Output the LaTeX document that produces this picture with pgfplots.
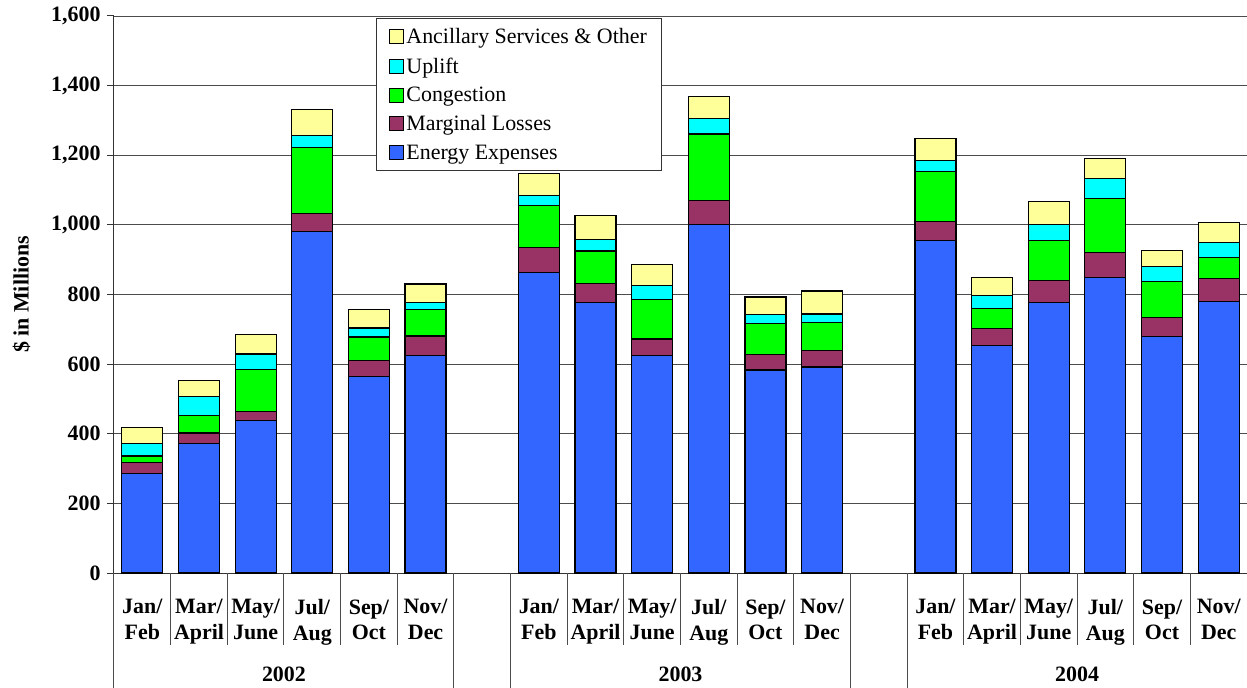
\documentclass[border=0pt]{standalone}
\usepackage{pgfplots}
\pgfplotsset{compat=1.18}
\usepackage{pgfplotstable}
\usepackage{fontspec}
\setmainfont{Liberation Serif}
\definecolor{cE}{HTML}{3366FF}
\definecolor{cM}{HTML}{993366}
\definecolor{cC}{HTML}{00FF00}
\definecolor{cU}{HTML}{00FFFF}
\definecolor{cA}{HTML}{FFFF99}
\pgfplotstableread{
x E M C U A
0 286 32 18 35 48
1 373 29 51 55 45
2 438 26 121 44 56
3 981 52 190 34 75
4 564 46 68 26 53
5 624 57 75 20 54
7 863 72 121 28 64
8 777 55 93 32 69
9 624 48 114 41 59
10 1002 68 191 45 62
11 583 45 88 26 51
12 592 46 81 25 66
14 955 55 144 32 62
15 654 48 58 36 53
16 777 64 115 44 67
17 849 72 154 58 57
18 680 54 103 43 46
19 781 66 60 43 57
}\data
\newcommand{\bigfont}{\fontsize{22}{26}\selectfont}
\begin{document}
\begin{tikzpicture}
\begin{axis}[name=ax,
  scale only axis, width=1133bp, height=557bp,
  xmin=-0.5, xmax=19.5, ymin=0, ymax=1600,
  ybar stacked, bar width=41bp,
  axis x line*=bottom, axis y line*=left,
  axis line style={black!80, line width=1bp},
  ytick={0,200,...,1600},
  ymajorgrids, grid style={black!70, line width=0.9bp},
  tick align=outside, ytick style={black!80, line width=1bp}, major tick length=7bp,
  xtick style={draw=none},
  /pgf/number format/assume math mode=true,
  /pgf/number format/1000 sep={,},
  yticklabel style={font=\bfseries\bigfont, xshift=-3bp},
  xtick={0,1,2,3,4,5,7,8,9,10,11,12,14,15,16,17,18,19},
  xticklabels={{Jan/\\Feb},{Mar/\\April},{May/\\June},{Jul/\\Aug},{Sep/\\Oct},{Nov/\\Dec},
               {Jan/\\Feb},{Mar/\\April},{May/\\June},{Jul/\\Aug},{Sep/\\Oct},{Nov/\\Dec},
               {Jan/\\Feb},{Mar/\\April},{May/\\June},{Jul/\\Aug},{Sep/\\Oct},{Nov/\\Dec}},
  xticklabel style={font=\bfseries\bigfont, align=center, yshift=-16bp},
  ylabel={\$ in Millions},
  ylabel style={font=\bfseries\bigfont},
  ylabel shift=14bp,
  clip=false,
  reverse legend,
  legend cell align=left,
  legend style={at={(0.2312,0.9964)}, anchor=north west, draw=black!80, line width=1bp,
    font=\bigfont, row sep=8.5bp, inner xsep=13bp, inner ysep=8bp},
  legend image code/.code={\draw[#1, line width=1bp] (5bp,-7bp) rectangle (19bp,7bp);},
  every axis plot/.append style={draw=black, line width=1.2bp},
]
\addplot[fill=cE] table[x=x,y=E]{\data};
\addplot[fill=cM] table[x=x,y=M]{\data};
\addplot[fill=cC] table[x=x,y=C]{\data};
\addplot[fill=cU] table[x=x,y=U]{\data};
\addplot[fill=cA] table[x=x,y=A]{\data};
\legend{Energy Expenses, Marginal Losses, Congestion, Uplift, Ancillary Services \& Other}
% separators (72 px short, 114 px long below the axis)
\draw[black!70, line width=1bp] (axis cs:0.5,0) -- (axis cs:0.5,-206.8);
\draw[black!70, line width=1bp] (axis cs:1.5,0) -- (axis cs:1.5,-206.8);
\draw[black!70, line width=1bp] (axis cs:2.5,0) -- (axis cs:2.5,-206.8);
\draw[black!70, line width=1bp] (axis cs:3.5,0) -- (axis cs:3.5,-206.8);
\draw[black!70, line width=1bp] (axis cs:4.5,0) -- (axis cs:4.5,-206.8);
\draw[black!70, line width=1bp] (axis cs:7.5,0) -- (axis cs:7.5,-206.8);
\draw[black!70, line width=1bp] (axis cs:8.5,0) -- (axis cs:8.5,-206.8);
\draw[black!70, line width=1bp] (axis cs:9.5,0) -- (axis cs:9.5,-206.8);
\draw[black!70, line width=1bp] (axis cs:10.5,0) -- (axis cs:10.5,-206.8);
\draw[black!70, line width=1bp] (axis cs:11.5,0) -- (axis cs:11.5,-206.8);
\draw[black!70, line width=1bp] (axis cs:14.5,0) -- (axis cs:14.5,-206.8);
\draw[black!70, line width=1bp] (axis cs:15.5,0) -- (axis cs:15.5,-206.8);
\draw[black!70, line width=1bp] (axis cs:16.5,0) -- (axis cs:16.5,-206.8);
\draw[black!70, line width=1bp] (axis cs:17.5,0) -- (axis cs:17.5,-206.8);
\draw[black!70, line width=1bp] (axis cs:18.5,0) -- (axis cs:18.5,-206.8);
\draw[black!70, line width=1bp] (axis cs:-0.5,0) -- (axis cs:-0.5,-330);
\draw[black!70, line width=1bp] (axis cs:5.5,0) -- (axis cs:5.5,-330);
\draw[black!70, line width=1bp] (axis cs:6.5,0) -- (axis cs:6.5,-330);
\draw[black!70, line width=1bp] (axis cs:12.5,0) -- (axis cs:12.5,-330);
\draw[black!70, line width=1bp] (axis cs:13.5,0) -- (axis cs:13.5,-330);
\node[font=\bfseries\bigfont, yshift=-101bp] at (axis cs:2.5,0) {2002};
\node[font=\bfseries\bigfont, yshift=-101bp] at (axis cs:9.5,0) {2003};
\node[font=\bfseries\bigfont, yshift=-101bp] at (axis cs:16.5,0) {2004};
\end{axis}
\pgfresetboundingbox
\path ([xshift=-114bp,yshift=-114bp]ax.south west) rectangle ([yshift=16bp]ax.north east);
\end{tikzpicture}
\end{document}
